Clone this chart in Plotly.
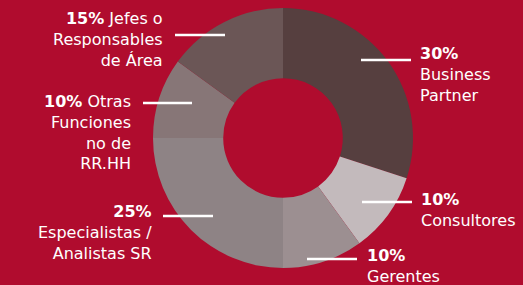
import plotly.graph_objects as go

categories = ["Business Partner", "Consultores", "Gerentes",
              "Especialistas / Analistas SR", "Otras Funciones no de RR.HH",
              "Jefes o Responsables de Área"]
values = [30, 10, 10, 25, 10, 15]
colors = ["#563f3f", "#c3babc", "#9c8f91", "#8e8385", "#877677", "#6b5656"]
label_lines = [
    ["Business", "Partner"],
    ["Consultores"],
    ["Gerentes"],
    ["Especialistas /", "Analistas SR"],
    ["Otras", "Funciones", "no de", "RR.HH"],
    ["Jefes o", "Responsables", "de Área"],
]
inline = [False, False, False, False, True, True]

W, H = 523, 285
BG = "#b00c2e"
cx, cy, r = 283, 138, 130

fig = go.Figure(go.Pie(
    labels=categories, values=values, sort=False, direction="clockwise",
    rotation=0, hole=0.46, textinfo="none", hoverinfo="label+percent",
    marker=dict(colors=colors, line=dict(width=0)),
    domain=dict(x=[(cx - r) / W, (cx + r) / W], y=[(H - cy - r) / H, (H - cy + r) / H]),
    showlegend=False,
))

place = [
    dict(tx=418, ty=42, side="left", lx=(361, 411), ly=60),
    dict(tx=419, ty=188, side="left", lx=(362, 412), ly=202),
    dict(tx=365, ty=244, side="left", lx=(307, 357), ly=259),
    dict(tx=154, ty=200, side="right", lx=(163, 213), ly=216),
    dict(tx=133, ty=90, side="right", lx=(143, 192), ly=103),
    dict(tx=165, ty=7, side="right", lx=(175, 225), ly=35),
]

for cat, v, lines, inl, p in zip(categories, values, label_lines, inline, place):
    pct = f"<b>{v}%</b>"
    if inl:
        txt = pct + " " + lines[0] + "<br>" + "<br>".join(lines[1:])
    else:
        txt = pct + "<br>" + "<br>".join(lines)
    fig.add_annotation(
        x=p["tx"] / W, y=1 - p["ty"] / H, xref="paper", yref="paper",
        text=txt, showarrow=False,
        xanchor="left" if p["side"] == "left" else "right",
        yanchor="top", align=p["side"],
        font=dict(family="DejaVu Sans", size=16, color="white"),
    )
    fig.add_shape(type="line", xref="paper", yref="paper",
                  x0=p["lx"][0] / W, x1=p["lx"][1] / W,
                  y0=1 - p["ly"] / H, y1=1 - p["ly"] / H,
                  line=dict(color="white", width=2.5))

fig.update_layout(
    width=W, height=H, margin=dict(l=0, r=0, t=0, b=0),
    paper_bgcolor=BG, plot_bgcolor=BG,
)
fig.write_html("out.html", config={"displayModeBar": False},
               post_script="document.body.style.margin='0';document.body.style.background='%s';" % BG)
